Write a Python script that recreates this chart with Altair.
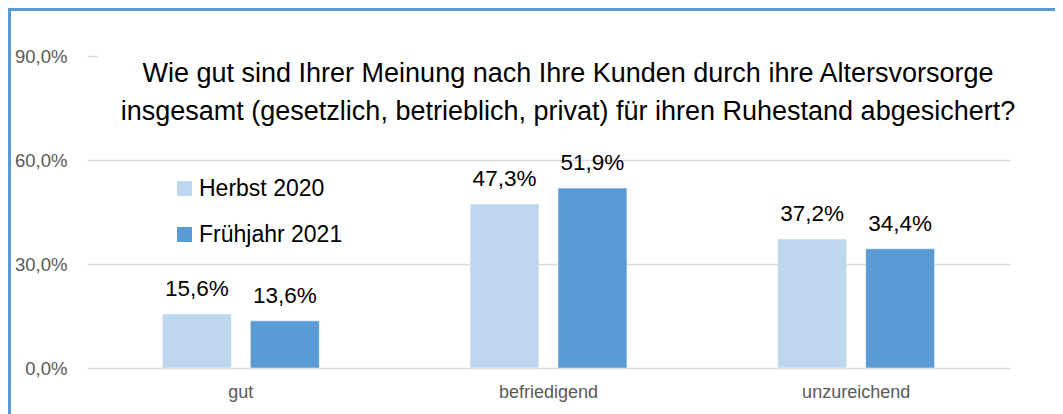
import altair as alt
import pandas as pd

categories = ["gut", "befriedigend", "unzureichend"]
series = ["Herbst 2020", "Frühjahr 2021"]
herbst_2020 = [15.6, 47.3, 37.2]
fruehjahr_2021 = [13.6, 51.9, 34.4]
y_ticks = [0, 30, 60, 90]
title_lines = [
    "Wie gut sind Ihrer Meinung nach Ihre Kunden durch ihre Altersvorsorge",
    "insgesamt (gesetzlich, betrieblich, privat) für ihren Ruhestand abgesichert?",
]
colors = ["#BDD7EE", "#5B9BD5"]

rows = []
for c, a, b in zip(categories, herbst_2020, fruehjahr_2021):
    rows.append({"cat": c, "series": series[0], "value": a})
    rows.append({"cat": c, "series": series[1], "value": b})
df = pd.DataFrame(rows)

FONT = "Liberation Sans, Arial, sans-serif"
W, H = 923, 312

x_enc = alt.X("cat:N", sort=categories, title=None,
              scale=alt.Scale(paddingInner=0.49, paddingOuter=0.245),
              axis=alt.Axis(labelAngle=0, labelFontSize=18, labelColor="#595959",
                            labelFont=FONT, ticks=False, domain=False, labelPadding=15))
y_enc = alt.Y("value:Q", title=None,
              scale=alt.Scale(domain=[0, 90], nice=False),
              axis=alt.Axis(values=y_ticks, labelFontSize=18.5, labelColor="#595959",
                            labelFont=FONT, ticks=False, domain=False, labelPadding=20,
                            gridColor="#D9D9D9", gridWidth=1.5,
                            labelExpr="replace(format(datum.value, '.1f'), '.', ',') + '%'"))
xoff = alt.XOffset("series:N", sort=series,
                   scale=alt.Scale(paddingInner=0.216, paddingOuter=0))
color_enc = alt.Color("series:N", sort=series,
                      scale=alt.Scale(domain=series, range=colors),
                      legend=alt.Legend(title=None, orient="none", legendX=86, legendY=121,
                                        symbolType="square", symbolSize=225,
                                        symbolStrokeWidth=0, labelFontSize=23,
                                        labelFont=FONT, labelColor="#000000", labelLimit=0,
                                        rowPadding=22, labelOffset=3, padding=0))

base = alt.Chart(df)

bars = base.mark_bar(stroke="white", strokeWidth=0.5).encode(
    x=x_enc, y=y_enc, xOffset=xoff, color=color_enc
)

labels = base.transform_calculate(
    lbl="replace(format(datum.value, '.1f'), '.', ',') + '%'"
).mark_text(fontSize=22.5, font=FONT, color="#000000", baseline="alphabetic", dy=-18).encode(
    x=alt.X("cat:N", sort=categories), y="value:Q", xOffset=alt.XOffset("series:N", sort=series),
    text="lbl:N"
)

cover = alt.Chart(pd.DataFrame({"a": [0]})).mark_rect(color="white").encode(
    x=alt.value(11), x2=alt.value(W + 5), y=alt.value(-4), y2=alt.value(4)
)

title = alt.Chart(pd.DataFrame({"a": [0]})).mark_text(
    fontSize=27, font=FONT, color="#000000", align="center", baseline="alphabetic",
    lineBreak="\n", lineHeight=38
).encode(
    x=alt.value(481), y=alt.value(26), text=alt.value("\n".join(title_lines))
)

border = alt.Chart(pd.DataFrame({"a": [0]})).mark_rect(
    fill=None, stroke="#5B9BD5", strokeWidth=3
).encode(
    x=alt.value(-77.5), x2=alt.value(W + 200), y=alt.value(-46.5), y2=alt.value(H + 200)
)

chart = alt.layer(bars, labels, cover, title, border).properties(
    width=W, height=H,
    autosize=alt.AutoSizeParams(type="none"),
    padding={"left": 79, "top": 48, "right": 45, "bottom": 48},
).configure(
    background="white",
    view=alt.ViewConfig(stroke="transparent", strokeWidth=0),
)

chart.save("out.html", embed_options={"renderer": "svg", "actions": False})
